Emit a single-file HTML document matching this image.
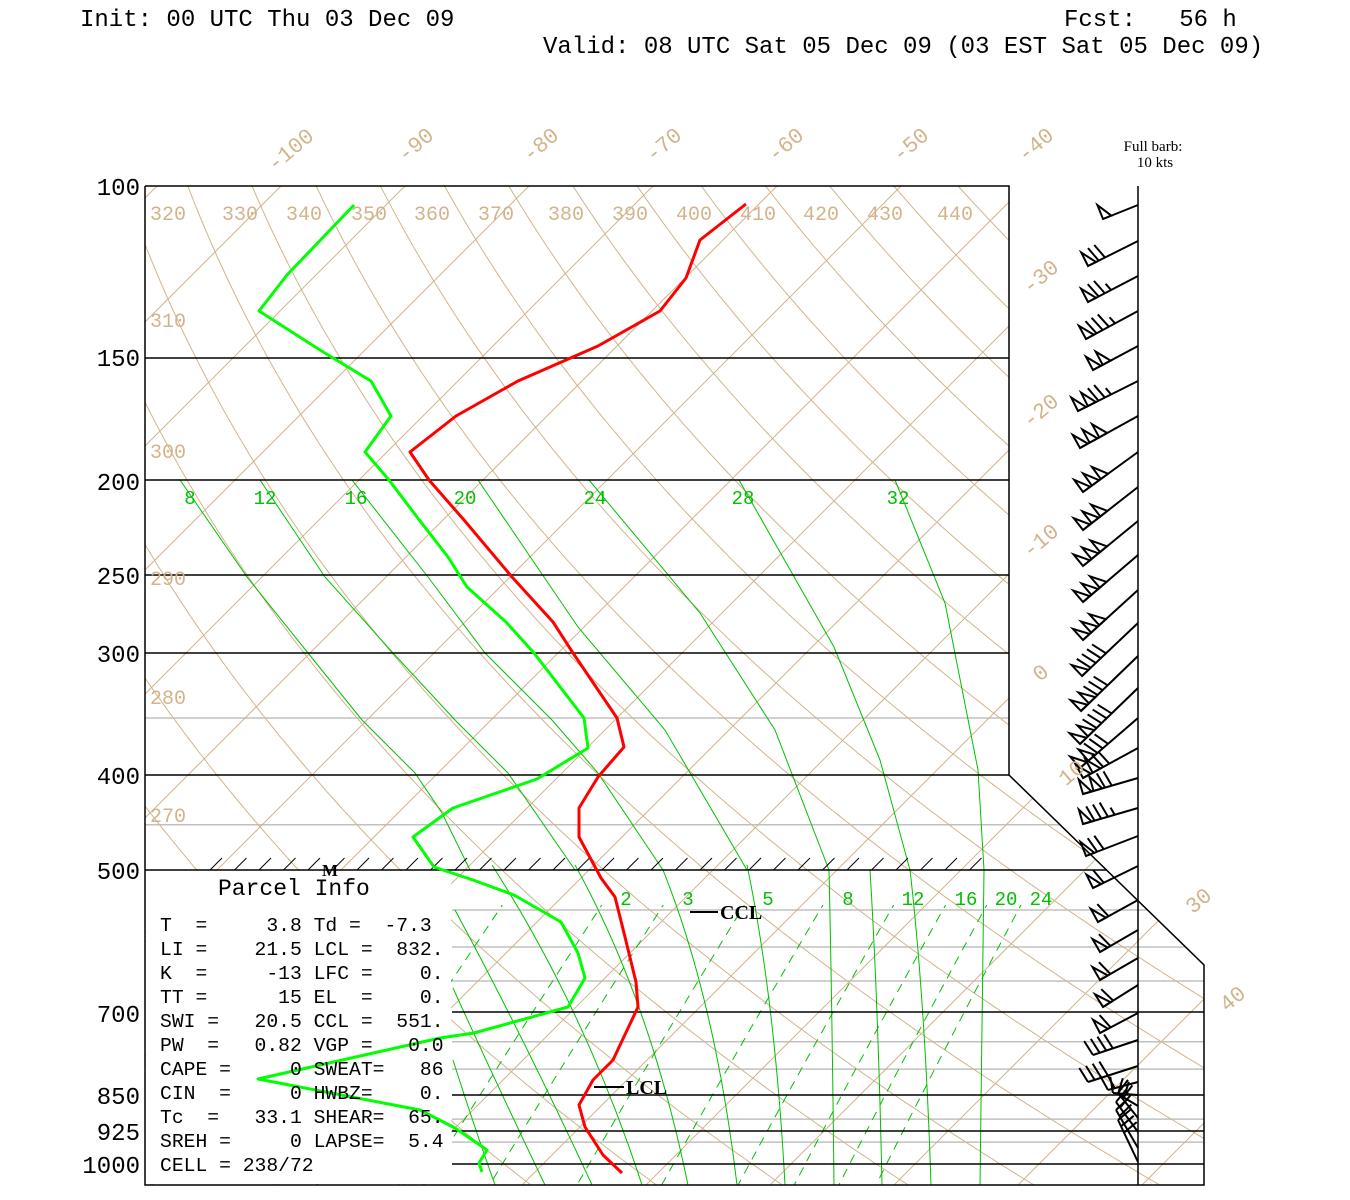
<!DOCTYPE html>
<html><head><meta charset="utf-8">
<style>
html,body{margin:0;padding:0;background:#fff;}
svg{display:block;}
.m{font-family:"Liberation Mono",monospace;}
</style></head>
<body>
<svg id="s" width="1350" height="1200" viewBox="0 0 1350 1200" xmlns="http://www.w3.org/2000/svg">
<defs>
<clipPath id="reg"><polygon points="145,186 1009,186 1009,775 1204,965 1204,1185 145,1185"/></clipPath>
<clipPath id="mix"><rect x="145" y="905" width="1060" height="280"/></clipPath>
</defs>
<rect width="1350" height="1200" fill="#fff"/>
<g id="gray" stroke="#c0c0c0" stroke-width="1.5"></g>
<g id="tan" clip-path="url(#reg)" fill="none" stroke="#d2b48c" stroke-width="1"></g>
<g clip-path="url(#reg)" fill="none" stroke="#00c000" stroke-width="1">
<polyline points="180,480 247,577 308,653 362,720 415,773 442,813 470,870"/>
<polyline points="260,480 325,577 393,653 455,720 508,773 575,870"/>
<polyline points="352,480 428,577 485,653 552,720 598,773 663,870"/>
<polyline points="478,480 578,627 665,730 747,870"/>
<polyline points="589,480 700,613 775,730 829,870"/>
<polyline points="739,480 834,647 880,760 910,870"/>
<polyline points="895,480 945,603 978,770 984,870"/>
<path d="M453,1060 Q472,1120 495,1185"/>
<path d="M453,988 Q497,1085 545,1185"/>
<path d="M455,910 Q525,1040 592,1185"/>
<path d="M492,865 Q585,1010 642,1185"/>
<path d="M575,865 Q650,1000 688,1185"/>
<path d="M663,870 Q715,1000 737,1185"/>
<path d="M747,865 Q775,1000 785,1185"/>
<path d="M829,870 Q832,1000 834,1185"/>
<path d="M870,870 Q878,1000 882,1185"/>
<path d="M910,870 Q925,1000 931,1185"/>
<path d="M984,870 Q982,1000 980,1185"/>
</g>
<g clip-path="url(#reg)"><g id="mixr" clip-path="url(#mix)" fill="none" stroke="#00c000" stroke-width="1" stroke-dasharray="9,7"></g></g>
<rect x="146" y="871" width="305" height="313" fill="#fff"/>
<g id="black" stroke="#000" stroke-width="1.5" fill="none"></g>
<g id="hatch" stroke="#000" stroke-width="1"></g>
<g id="barbs" stroke="#000" stroke-width="2" fill="none"></g>

<polyline fill="none" stroke="#ff0000" stroke-width="3" stroke-linejoin="round" points="746,204 700,240 686,278 660,311 598,346 518,381 456,416 410,452 429,480 464,520 512,577 553,622 573,653 617,718 624,747 598,777 579,808 579,837 601,878 615,897 625,937 636,982 638,1007 613,1060 593,1080 579,1105 585,1127 603,1155 622,1173"/>
<polyline fill="none" stroke="#00ff00" stroke-width="3" stroke-linejoin="round" points="354,205 287,275 259,311 320,350 371,381 391,416 365,452 389,480 417,517 448,557 467,587 506,622 534,653 584,718 588,748 537,779 453,808 413,837 434,867 473,880 514,895 561,922 578,953 585,978 568,1007 474,1033 440,1038 258,1079 420,1110 455,1128 487,1150 479,1163 482,1172"/>

<g class="m" font-size="24" fill="#000">
<text x="80" y="26">Init: 00 UTC Thu 03 Dec 09</text>
<text x="1064" y="26" xml:space="preserve" style="white-space:pre">Fcst:   56 h</text>
<text x="543" y="53">Valid: 08 UTC Sat 05 Dec 09 (03 EST Sat 05 Dec 09)</text>
</g>
<g class="m" font-size="24" fill="#000" text-anchor="end">
<text x="140" y="195">100</text><text x="140" y="366">150</text><text x="140" y="490">200</text>
<text x="140" y="584">250</text><text x="140" y="662">300</text><text x="140" y="784">400</text>
<text x="140" y="879">500</text><text x="140" y="1022">700</text><text x="140" y="1104">850</text>
<text x="140" y="1140">925</text><text x="140" y="1173">1000</text>
</g>
<g font-family="Liberation Serif,serif" font-size="15" fill="#000" text-anchor="middle">
<text x="1153" y="151">Full barb:</text><text x="1155" y="167">10 kts</text>
</g>
<g class="m" font-size="20" fill="#d2b48c" text-anchor="middle">
<text x="168" y="220">320</text><text x="240" y="220">330</text><text x="304" y="220">340</text>
<text x="369" y="220">350</text><text x="432" y="220">360</text><text x="496" y="220">370</text>
<text x="566" y="220">380</text><text x="630" y="220">390</text><text x="694" y="220">400</text>
<text x="758" y="220">410</text><text x="821" y="220">420</text><text x="885" y="220">430</text>
<text x="955" y="220">440</text>
<text x="168" y="327">310</text><text x="168" y="458">300</text><text x="168" y="585">290</text>
<text x="168" y="704">280</text><text x="168" y="822">270</text>
</g>
<g class="m" font-size="22" fill="#d2b48c" text-anchor="middle">
<text transform="translate(295,155) rotate(-40)">-100</text>
<text transform="translate(420,150) rotate(-40)">-90</text>
<text transform="translate(545,150) rotate(-40)">-80</text>
<text transform="translate(668,150) rotate(-40)">-70</text>
<text transform="translate(790,150) rotate(-40)">-60</text>
<text transform="translate(915,150) rotate(-40)">-50</text>
<text transform="translate(1040,150) rotate(-40)">-40</text>
<text transform="translate(1045,282) rotate(-40)">-30</text>
<text transform="translate(1045,416) rotate(-40)">-20</text>
<text transform="translate(1045,546) rotate(-40)">-10</text>
<text transform="translate(1045,678) rotate(-40)">0</text>
<text transform="translate(1076,778) rotate(-40)">10</text>
<text transform="translate(1203,906) rotate(-40)">30</text>
<text transform="translate(1237,1004) rotate(-40)">40</text>
</g>
<g class="m" font-size="19" fill="#00c000" text-anchor="middle">
<text x="190" y="504">8</text><text x="265" y="504">12</text><text x="356" y="504">16</text>
<text x="465" y="504">20</text><text x="595" y="504">24</text><text x="743" y="504">28</text>
<text x="898" y="504">32</text>
<text x="626" y="905">2</text><text x="688" y="905">3</text><text x="768" y="905">5</text>
<text x="848" y="905">8</text><text x="913" y="905">12</text><text x="966" y="905">16</text>
<text x="1006" y="905">20</text><text x="1041" y="905">24</text>
</g>
<g font-family="Liberation Serif,serif" font-weight="bold" font-size="20" fill="#000">
<line x1="690" y1="912" x2="718" y2="912" stroke="#000" stroke-width="2"/>
<text x="720" y="919">CCL</text>
<line x1="594" y1="1087" x2="624" y2="1087" stroke="#000" stroke-width="2"/>
<text x="626" y="1094">LCL</text>
<text x="322" y="876" font-size="17">M</text>
</g>
<g class="m" font-size="19.7" fill="#000">
<text x="218" y="895" font-size="23">Parcel Info</text>
<text x="160" y="931" xml:space="preserve" style="white-space:pre">T  =     3.8 Td =  -7.3</text>
<text x="160" y="955" xml:space="preserve" style="white-space:pre">LI =    21.5 LCL =  832.</text>
<text x="160" y="979" xml:space="preserve" style="white-space:pre">K  =     -13 LFC =    0.</text>
<text x="160" y="1003" xml:space="preserve" style="white-space:pre">TT =      15 EL  =    0.</text>
<text x="160" y="1027" xml:space="preserve" style="white-space:pre">SWI =   20.5 CCL =  551.</text>
<text x="160" y="1051" xml:space="preserve" style="white-space:pre">PW  =   0.82 VGP =   0.0</text>
<text x="160" y="1075" xml:space="preserve" style="white-space:pre">CAPE =     0 SWEAT=   86</text>
<text x="160" y="1099" xml:space="preserve" style="white-space:pre">CIN  =     0 HWBZ=    0.</text>
<text x="160" y="1123" xml:space="preserve" style="white-space:pre">Tc  =   33.1 SHEAR=  65.</text>
<text x="160" y="1147" xml:space="preserve" style="white-space:pre">SREH =     0 LAPSE=  5.4</text>
<text x="160" y="1171" xml:space="preserve" style="white-space:pre">CELL = 238/72</text>
</g>
</svg>
<script>
(function(){
var NS="http://www.w3.org/2000/svg";
function el(g,t,a){var e=document.createElementNS(NS,t);for(var k in a)e.setAttribute(k,a[k]);document.getElementById(g).appendChild(e);return e;}
function yOf(p){return 186+424.7*Math.log(p/100);}
function xOf(T,p){return 1025+12.4*(T+40)-(yOf(p)-186);}
function line(g,x1,y1,x2,y2){return el(g,"line",{x1:x1,y1:y1,x2:x2,y2:y2});}
function poly(g,pts){el(g,"polyline",{points:pts.map(function(q){return q[0].toFixed(1)+","+q[1].toFixed(1);}).join(" ")});}
for(var T=-150;T<=70;T+=10){poly("tan",[[xOf(T,90),yOf(90)],[xOf(T,1100),yOf(1100)]]);}
for(var th=230;th<=470;th+=10){var pts=[];for(var p=95;p<=1100;p+=5){var t=th*Math.pow(p/1000,0.286)-273.15;pts.push([xOf(t,p),yOf(p)]);}poly("tan",pts);}
[1,2,3,5,8,12,16,20,24].forEach(function(w){var pts=[];for(var p=520;p<=1070;p+=5){var e=w*p/(622+w);var L=Math.log(e/6.112);var td=243.5*L/(17.67-L);pts.push([xOf(td,p),yOf(p)]);}poly("mixr",pts);});
function dx(y){return y<=775?1009:Math.min(1204,1009+(y-775)*195/190);}
[350,450,550,600,650,750,800,900,950].forEach(function(p){var y=yOf(p);line("gray",y>870?452:145,y,dx(y),y);});
[150,200,250,300,400,500,700,850,925,1000].forEach(function(p){var y=Math.round(yOf(p));line("black",y>875?452:145,y,dx(y),y);});
el("black","polyline",{points:"145,186 1009,186 1009,775 1204,965 1204,1185 145,1185 145,186"});
line("black",1138,186,1138,1185);
for(var x=210;x<=990;x+=24.5){line("hatch",x,870,x+12,858);}
function barb(y,ddx,ddy,fl,fu,ha){var L=Math.hypot(ddx,ddy),ux=ddx/L,uy=ddy/L,nx=-uy,ny=ux;if(ny>0&&uy>0){nx=-nx;ny=-ny;}
 var sx=1138,sy=y;line("barbs",sx,sy,sx+ddx,sy+ddy);var pos=L;
 for(var i=0;i<fl;i++){var ax=sx+ux*pos,ay=sy+uy*pos,bx=sx+ux*(pos-9),by=sy+uy*(pos-9);
  el("barbs","polygon",{points:ax+","+ay+" "+bx+","+by+" "+(ax+nx*15)+","+(ay+ny*15)});pos-=11;}
 if(fl>0&&fu>0)pos-=1;
 for(var j=0;j<fu;j++){var px=sx+ux*pos,py=sy+uy*pos;line("barbs",px,py,px+nx*16+ux*4,py+ny*16+uy*4);pos-=7;}
 if(ha){var px=sx+ux*pos,py=sy+uy*pos;line("barbs",px,py,px+nx*8+ux*2,py+ny*8+uy*2);}
}
var B=[[205,-35,14,1,0,0],[241,-50,25,1,2,0],[276,-50,26,1,2,1],[311,-52,28,1,3,1],[346,-45,24,2,0,0],[381,-60,30,2,2,1],[416,-58,32,3,0,0],
[452,-55,40,3,0,0],[487,-55,43,3,0,0],[521,-55,45,3,0,0],[555,-55,47,3,0,0],[590,-55,50,3,0,0],[623,-56,53,1,4,0],[656,-57,55,2,3,0],
[688,-58,56,2,4,0],[718,-58,50,2,3,0],[748,-55,30,2,2,0],[778,-55,16,2,2,0],[808,-55,16,1,3,1],[836,-52,20,1,2,0],[866,-45,22,1,1,0],
[900,-40,22,1,1,0],[930,-38,22,1,1,0],[958,-38,22,1,1,0],[985,-35,22,1,1,0],[1013,-38,20,1,1,0],[1040,-45,15,0,4,0],[1066,-50,16,0,4,0],[1082,-30,8,0,2,0],
[1095,-25,-2,0,1,0],[1106,-20,-12,0,2,0],[1118,-20,-25,0,2,0],[1132,-22,-30,0,2,0],[1148,-22,-38,0,2,0],[1162,-20,-42,0,3,0]];
B.forEach(function(b){barb(b[0],b[1],b[2],b[3],b[4],b[5]);});
})();
</script>
</body></html>
